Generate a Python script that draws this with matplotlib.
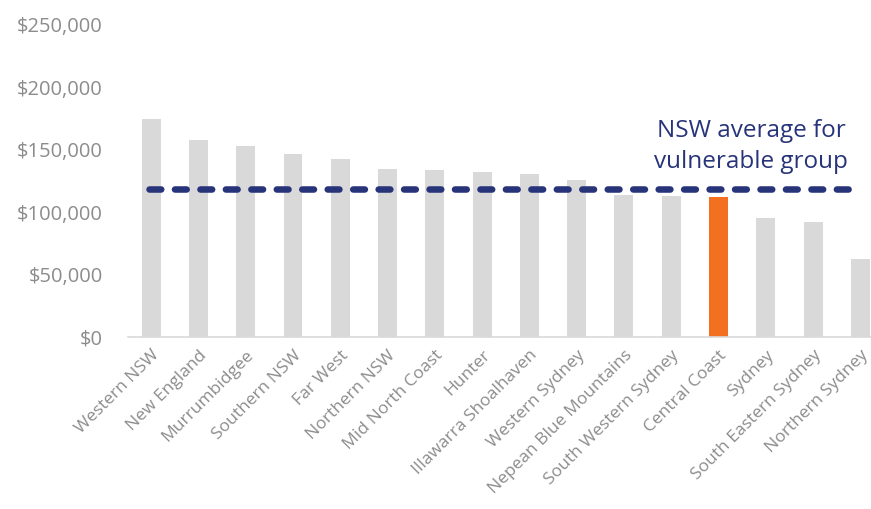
import matplotlib
matplotlib.use("Agg")
import matplotlib.pyplot as plt
from matplotlib.ticker import FuncFormatter

# --------------------------- data --------------------------------
regions = ['Western NSW', 'New England', 'Murrumbidgee', 'Southern NSW', 'Far West',
           'Northern NSW', 'Mid North Coast', 'Hunter', 'Illawarra Shoalhaven',
           'Western Sydney', 'Nepean Blue Mountains', 'South Western Sydney',
           'Central Coast', 'Sydney', 'South Eastern Sydney', 'Northern Sydney']
values = [174000, 157400, 152400, 146000, 142000, 134000, 133000, 131800, 129700,
          125000, 113200, 112100, 112000, 94800, 91900, 62000]
highlight = 'Central Coast'
nsw_average = 118000

yticks = [0, 50000, 100000, 150000, 200000, 250000]

grey = '#d9d9d9'
orange = '#f37021'
navy = '#283479'
label_grey = '#8c8c8c'

plt.rcParams['font.family'] = ['Open Sans', 'DejaVu Sans']

fig = plt.figure(figsize=(8.71, 5.10), dpi=100)
ax = fig.add_axes([127.5 / 871, 1 - 337.5 / 510, (884 - 127.5) / 871, (337.5 - 25) / 510])

x = list(range(len(regions)))
colors = [orange if r == highlight else grey for r in regions]
ax.bar(x, values, width=0.4, color=colors, zorder=2)

# average line across the bar centres
ax.plot([x[0] - 0.05, x[-1] - 0.05], [nsw_average, nsw_average], color=navy,
        linewidth=4.7, dashes=(1.8, 2.1), solid_capstyle='round',
        dash_capstyle='round', zorder=3)
ax.text(12.69, 152800, 'NSW average for\nvulnerable group', color=navy,
        fontsize=17.5, ha='center', va='center', linespacing=1.4)

ax.set_xlim(-0.5, len(regions) - 0.5)
ax.set_ylim(0, 250000)
ax.set_yticks(yticks)
ax.yaxis.set_major_formatter(FuncFormatter(lambda v, p: '${:,.0f}'.format(v)))
ax.set_xticks(x)
ax.set_xticklabels(regions, rotation=45, ha='right', rotation_mode='anchor')

ax.tick_params(axis='y', length=0, pad=18, labelsize=14.5, labelcolor=label_grey)
ax.tick_params(axis='x', length=0, pad=7, labelsize=12.5, labelcolor=label_grey)

for side in ['top', 'right', 'left']:
    ax.spines[side].set_visible(False)
ax.spines['bottom'].set_color(grey)
ax.spines['bottom'].set_linewidth(1.2)

fig.savefig('out.png', dpi=100)
plt.close()
